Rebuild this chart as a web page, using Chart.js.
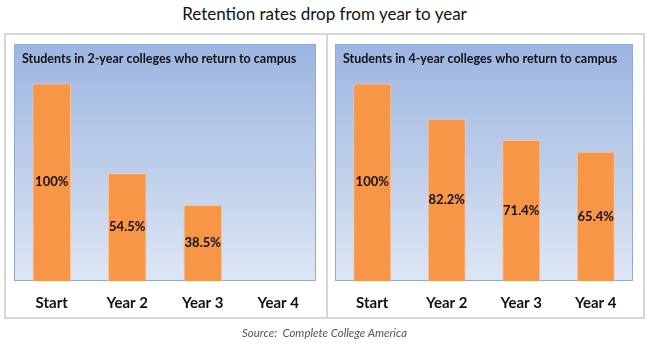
<!DOCTYPE html>
<html>
<head>
<meta charset="utf-8">
<script src="https://cdn.jsdelivr.net/npm/chart.js@4"></script>
<style>
    body { margin: 0; background: #fff; font-family: Lato, "Open Sans", sans-serif; }
    #wrap { position: relative; width: 649px; height: 344px; }
    #titulo { position: absolute; left: 0; top: 3px; width: 649px; text-align: center; font-size: 17px; color: #111; }
    #marco { position: absolute; left: 4px; top: 33px; width: 637px; height: 282px; border: 2px solid #d6d6d6; }
    #divisor { position: absolute; left: 326px; top: 35px; width: 2px; height: 282px; background: #d6d6d6; }
    .caja { position: absolute; top: 35px; height: 295px; }
    #cajaIzq { left: 6px; width: 320px; }
    #cajaDer { left: 328px; width: 313px; }
    #fuente { position: absolute; left: 0; top: 326px; width: 649px; text-align: center; font-size: 11.5px; font-style: italic; color: #555; }
</style>
</head>
<body>
<div id="wrap">
    <div id="titulo">Retention rates drop from year to year</div>
    <div id="marco"></div>
    <div id="divisor"></div>
    <div class="caja" id="cajaIzq"><canvas id="graficaDosAnios"></canvas></div>
    <div class="caja" id="cajaDer"><canvas id="graficaCuatroAnios"></canvas></div>
    <div id="fuente">Source:&nbsp; Complete College America</div>
</div>
<script>
// --- Datos ---
const categorias = ['Start', 'Year 2', 'Year 3', 'Year 4'];
const retencionDosAnios = [100, 54.5, 38.5, null];
const retencionCuatroAnios = [100, 82.2, 71.4, 65.4];
const tituloDosAnios = 'Students in 2-year colleges who return to campus';
const tituloCuatroAnios = 'Students in 4-year colleges who return to campus';

// Fondo degradado + borde del panel + subtítulo dentro del área
const panelPlugin = {
    id: 'panel',
    beforeDatasetsDraw(chart, args, opts) {
        const { ctx, chartArea: a } = chart;
        const g = ctx.createLinearGradient(0, a.top, 0, a.bottom);
        g.addColorStop(0, '#9cb5e1');
        g.addColorStop(1, '#dde6f3');
        ctx.save();
        ctx.fillStyle = g;
        ctx.fillRect(a.left, a.top, a.right - a.left, a.bottom - a.top);
        ctx.strokeStyle = '#8eaad8';
        ctx.lineWidth = 1;
        ctx.strokeRect(a.left + 0.5, a.top + 0.5, a.right - a.left - 1, a.bottom - a.top - 1);
        ctx.fillStyle = '#111';
        ctx.font = 'bold 12.5px Lato, sans-serif';
        ctx.textBaseline = 'middle';
        ctx.fillText(opts.texto, a.left + 8, a.top + 15);
        ctx.restore();
    }
};

// Etiquetas de porcentaje en el centro de cada barra
const etiquetasPlugin = {
    id: 'etiquetas',
    afterDatasetsDraw(chart) {
        const { ctx } = chart;
        const meta = chart.getDatasetMeta(0);
        const datos = chart.data.datasets[0].data;
        ctx.save();
        ctx.fillStyle = '#111';
        ctx.font = 'bold 13px Lato, sans-serif';
        ctx.textAlign = 'center';
        ctx.textBaseline = 'middle';
        meta.data.forEach((bar, i) => {
            const v = datos[i];
            if (v == null) return;
            const txt = v === 100 ? '100%' : v.toFixed(1) + '%';
            ctx.fillText(txt, bar.x, (bar.y + bar.base) / 2);
        });
        ctx.restore();
    }
};

function crearGrafica(id, datos, titulo, padding) {
    const ctx = document.getElementById(id).getContext('2d');
    return new Chart(ctx, {
        type: 'bar',
        data: {
            labels: categorias,
            datasets: [{
                data: datos,
                backgroundColor: '#f79646',
                borderColor: '#fbc49a',
                borderWidth: 1,
                borderSkipped: 'bottom',
                categoryPercentage: 1,
                barPercentage: 0.51
            }]
        },
        options: {
            responsive: true,
            maintainAspectRatio: false,
            animation: false,
            layout: { padding: padding },
            plugins: {
                legend: { display: false },
                tooltip: { enabled: false },
                panel: { texto: titulo }
            },
            scales: {
                x: {
                    grid: { display: false, drawTicks: false },
                    border: { display: false },
                    ticks: { color: '#111', padding: 13, font: { family: 'Lato', size: 15, weight: 'bold' } }
                },
                y: { display: false, min: 0, max: 120 }
            }
        },
        plugins: [panelPlugin, etiquetasPlugin]
    });
}

document.addEventListener('DOMContentLoaded', () => {
    crearGrafica('graficaDosAnios', retencionDosAnios, tituloDosAnios, { left: 8, right: 10, top: 9, bottom: 5 });
    crearGrafica('graficaCuatroAnios', retencionCuatroAnios, tituloCuatroAnios, { left: 7, right: 8, top: 9, bottom: 5 });
});
</script>
</body>
</html>
